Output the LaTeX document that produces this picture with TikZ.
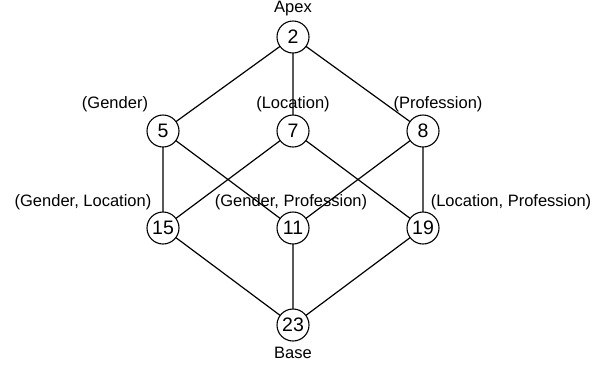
\documentclass[tikz,border=0pt]{standalone}
\usepackage{fontspec}
\setmainfont{Liberation Sans}
\begin{document}
\begin{tikzpicture}[x=1pt,y=-1pt,
  vert/.style={circle,draw,line width=1.1pt,fill=white,minimum size=32pt,inner sep=0pt,font=\fontsize{19.5}{21}\selectfont},
  lbl/.style={font=\fontsize{16.5}{18}\selectfont,inner sep=0pt},
  edge/.style={line width=1.2pt}]
\useasboundingbox (0,0) rectangle (607,368);
% labels
\node[lbl] (lapex) at (293,9) {Apex};
\node[lbl] (lg) at (115,104) {(Gender)};
\node[lbl] (ll) at (293,104) {(Location)};
\node[lbl] (lp) at (438,104) {(Profession)};
\node[lbl] (lgl) at (83,202) {(Gender, Location)};
\node[lbl] (lgp) at (291,202) {(Gender, Profession)};
\node[lbl] (llp) at (511,202) {(Location, Profession)};
\node[lbl] (lbase) at (293,353) {Base};
% coordinates
\coordinate (c2) at (293,37);
\coordinate (c5) at (163,131);
\coordinate (c7) at (293,131);
\coordinate (c8) at (423,131);
\coordinate (c15) at (163,228);
\coordinate (c11) at (293,228);
\coordinate (c19) at (423,228);
\coordinate (c23) at (293,325);
% edges
\draw[edge] (c2)--(c5) (c2)--(c7) (c2)--(c8);
\draw[edge] (c5)--(c15) (c5)--(c11) (c7)--(c15) (c7)--(c19) (c8)--(c11) (c8)--(c19);
\draw[edge] (c15)--(c23) (c11)--(c23) (c19)--(c23);
% vertices
\node[vert] (n2) at (c2) {2};
\node[vert] (n5) at (c5) {5};
\node[vert] (n7) at (c7) {7};
\node[vert] (n8) at (c8) {8};
\node[vert] (n15) at (c15) {15};
\node[vert] (n11) at (c11) {11};
\node[vert] (n19) at (c19) {19};
\node[vert] (n23) at (c23) {23};
\end{tikzpicture}
\end{document}
